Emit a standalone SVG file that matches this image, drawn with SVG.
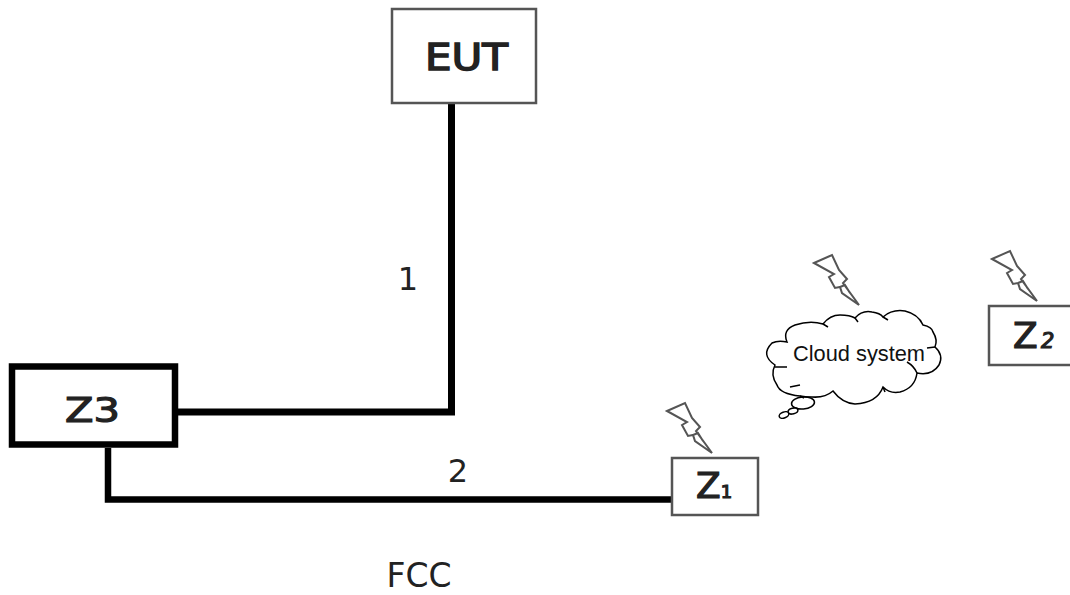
<svg xmlns="http://www.w3.org/2000/svg" width="1070" height="595" viewBox="0 0 1070 595">
<style>
.box{fill:#fff;stroke:#555;stroke-width:2.5}
.wire{fill:none;stroke:#000;stroke-linejoin:miter}
.lab{font-family:"DejaVu Sans",sans-serif;fill:#222;stroke:#222;stroke-width:1.2}
.num{font-family:"DejaVu Sans",sans-serif;fill:#222}
.bolt{fill:#fff;stroke:#555;stroke-width:2;stroke-linejoin:miter}
.cloud{fill:#fff;stroke:#000;stroke-width:1.5}
.hair{fill:none;stroke:#000;stroke-width:1.5}
</style>
<defs>
<path id="bolt" d="M0 8 18 0 25 15 33 24 29 28 45 50 28 38 26 32 21 33 15 22 20 19ZM26 32 31 30 36 38"/>
</defs>
<rect width="1070" height="595" fill="#fff"/>
<g id="connectors">
<path class="wire" stroke-width="7" d="M451.500 103V412H178"/>
<path class="wire" stroke-width="6.500" d="M108 448V499.500H672"/>
</g>
<g id="eut">
<rect class="box" x="392" y="9" width="144" height="94"/>
<text class="lab" x="425" y="70" font-size="37" style="stroke-width:1.500" textLength="83" lengthAdjust="spacingAndGlyphs">EUT</text>
</g>
<g id="z3">
<rect x="12" y="366.500" width="163" height="78" fill="#fff" stroke="#000" stroke-width="6.500"/>
<text class="lab" x="65" y="422" font-size="34" textLength="55" lengthAdjust="spacingAndGlyphs">Z3</text>
</g>
<g id="z1">
<use href="#bolt" class="bolt" x="667" y="403"/>
<rect class="box" x="672" y="458" width="86" height="57"/>
<text class="lab" x="696" y="498" font-size="36">Z<tspan font-size="18">1</tspan></text>
</g>
<g id="z2">
<use href="#bolt" class="bolt" x="992" y="251"/>
<rect class="box" x="989" y="306" width="90" height="59"/>
<text class="lab" x="1013" y="348" font-size="36">Z<tspan x="1041" font-size="21" font-style="italic">2</tspan></text>
</g>
<g id="cloud-system">
<use href="#bolt" class="bolt" x="814" y="255"/>
<ellipse class="cloud" cx="803" cy="403" rx="11.500" ry="6" transform="rotate(-5 803 403)"/>
<ellipse class="cloud" cx="793" cy="411" rx="5" ry="2.800" transform="rotate(-15 793 411)"/>
<ellipse class="cloud" cx="784" cy="415" rx="5" ry="3" transform="rotate(-20 784 415)"/>
<path class="cloud" d="M775 365Q760 355 772 343Q778 340 787 342Q782 330 795 325Q810 320 823 324Q830 315 840 315Q850 315 855 318Q862 310 872 312Q880 313 883 317Q892 309 905 311Q918 314 923 325Q932 327 933 332Q938 340 935 347Q944 355 939 365Q932 376 917 373Q915 388 900 392Q890 394 883 387Q877 403 855 404Q842 403 833 391Q825 398 812 397Q805 397 800 396Q780 394 777 385Q770 375 775 365Z"/>
<path class="hair" d="M775 367H787M823 324 828 327M855 318 858 322M883 317 888 320M927 348 935 347M907 362Q914 366 917 373M800 385 790 387M883 387 885 392M800 396 804 398"/>
<text x="793" y="361" font-family="Liberation Sans,sans-serif" font-size="21.500" fill="#111" textLength="132" lengthAdjust="spacingAndGlyphs">Cloud system</text>
</g>
<text class="num" x="408" y="290" font-size="32" text-anchor="middle">1</text>
<text class="num" x="458" y="482" font-size="32" text-anchor="middle">2</text>
<text class="num" x="419" y="587" font-size="33" text-anchor="middle">FCC</text>
</svg>
